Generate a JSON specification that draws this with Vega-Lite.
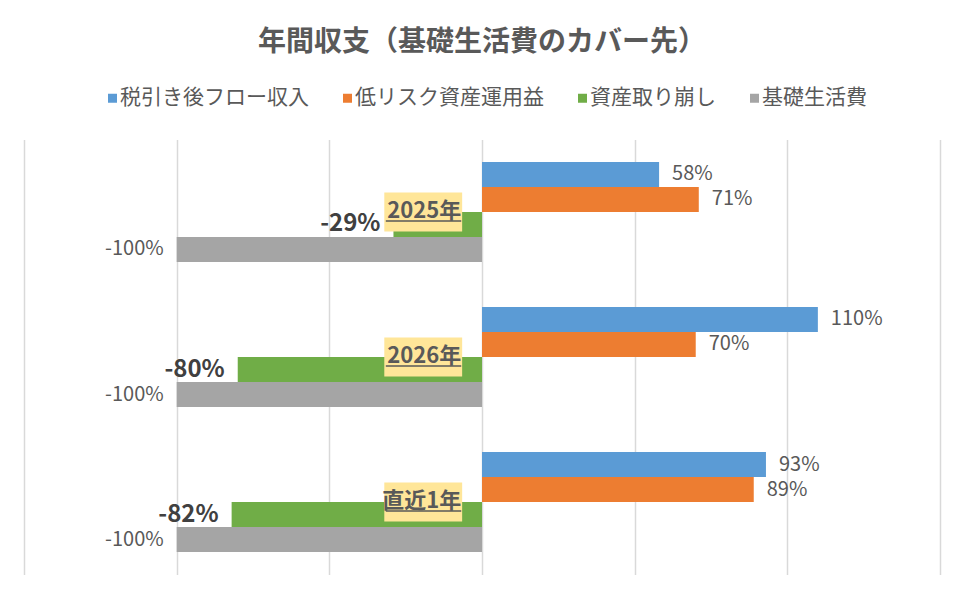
{
  "$schema": "https://vega.github.io/schema/vega-lite/v6.json",
  "width": 916,
  "height": 435,
  "autosize": {"type": "none"},
  "padding": {"left": 24, "top": 139.5, "right": 24, "bottom": 24.5},
  "background": "#ffffff",
  "title": {
    "text": "年間収支（基礎生活費のカバー先）",
    "font": "Noto Sans CJK JP",
    "fontSize": 28,
    "fontWeight": "bold",
    "color": "#595959",
    "anchor": "middle",
    "frame": "group",
    "offset": 31
  },
  "config": {
    "font": "Noto Sans CJK JP",
    "view": {"stroke": null},
    "locale": {
      "number": {"decimal": ".", "thousands": ",", "grouping": [3], "currency": ["$", ""], "minus": "-"}
    }
  },
  "data": {
    "values": [
      {"period": "2025年", "series": "税引き後フロー収入", "value": 0.58},
      {"period": "2025年", "series": "低リスク資産運用益", "value": 0.71},
      {"period": "2025年", "series": "資産取り崩し", "value": -0.29},
      {"period": "2025年", "series": "基礎生活費", "value": -1.0},
      {"period": "2026年", "series": "税引き後フロー収入", "value": 1.1},
      {"period": "2026年", "series": "低リスク資産運用益", "value": 0.7},
      {"period": "2026年", "series": "資産取り崩し", "value": -0.8},
      {"period": "2026年", "series": "基礎生活費", "value": -1.0},
      {"period": "直近1年", "series": "税引き後フロー収入", "value": 0.93},
      {"period": "直近1年", "series": "低リスク資産運用益", "value": 0.89},
      {"period": "直近1年", "series": "資産取り崩し", "value": -0.82},
      {"period": "直近1年", "series": "基礎生活費", "value": -1.0}
    ]
  },
  "encoding": {
    "y": {
      "field": "period",
      "type": "nominal",
      "sort": ["2025年", "2026年", "直近1年"],
      "axis": null,
      "scale": {"paddingInner": 0.3103, "paddingOuter": 0.155}
    }
  },
  "layer": [
    {
      "mark": {"type": "bar"},
      "encoding": {
        "x": {
          "field": "value",
          "type": "quantitative",
          "scale": {"domain": [-1.5, 1.5], "nice": false},
          "axis": {
            "values": [-1.5, -1, -0.5, 0, 0.5, 1, 1.5],
            "labels": false,
            "ticks": false,
            "domain": false,
            "title": null,
            "gridColor": "#D9D9D9",
            "gridWidth": 1.5
          }
        },
        "yOffset": {
          "field": "series",
          "sort": ["税引き後フロー収入", "低リスク資産運用益", "資産取り崩し", "基礎生活費"],
          "scale": {"paddingInner": 0, "paddingOuter": 0}
        },
        "color": {
          "field": "series",
          "type": "nominal",
          "sort": ["税引き後フロー収入", "低リスク資産運用益", "資産取り崩し", "基礎生活費"],
          "scale": {
            "domain": ["税引き後フロー収入", "低リスク資産運用益", "資産取り崩し", "基礎生活費"],
            "range": ["#5B9BD5", "#ED7D31", "#70AD47", "#A5A5A5"]
          },
          "legend": {
            "orient": "none",
            "legendX": 78,
            "legendY": -52,
            "direction": "horizontal",
            "columns": 4,
            "title": null,
            "symbolType": "square",
            "symbolSize": 81,
            "symbolStrokeWidth": 0,
            "symbolOffset": 0,
            "labelFontSize": 21,
            "labelColor": "#595959",
            "labelFont": "Noto Sans CJK JP",
            "labelLimit": 0,
            "labelOffset": -3,
            "columnPadding": 28,
            "padding": 0
          }
        }
      }
    },
    {
      "transform": [{"filter": "datum.value > 0"}],
      "mark": {"type": "text", "align": "left", "baseline": "middle", "dx": 13, "fontSize": 20, "color": "#595959"},
      "encoding": {
        "x": {"field": "value", "type": "quantitative"},
        "yOffset": {"field": "series", "sort": ["税引き後フロー収入", "低リスク資産運用益", "資産取り崩し", "基礎生活費"]},
        "text": {"field": "value", "type": "quantitative", "format": ".0%"}
      }
    },
    {
      "transform": [{"filter": "datum.series == '資産取り崩し'"}],
      "mark": {"type": "text", "align": "right", "baseline": "middle", "dx": -13, "fontSize": 24, "fontWeight": "bold", "color": "#404040"},
      "encoding": {
        "x": {"field": "value", "type": "quantitative"},
        "yOffset": {"field": "series", "sort": ["税引き後フロー収入", "低リスク資産運用益", "資産取り崩し", "基礎生活費"]},
        "text": {"field": "value", "type": "quantitative", "format": ".0%"}
      }
    },
    {
      "transform": [{"filter": "datum.series == '基礎生活費'"}],
      "mark": {"type": "text", "align": "right", "baseline": "middle", "dx": -13, "fontSize": 20, "color": "#595959"},
      "encoding": {
        "x": {"field": "value", "type": "quantitative"},
        "yOffset": {"field": "series", "sort": ["税引き後フロー収入", "低リスク資産運用益", "資産取り崩し", "基礎生活費"]},
        "text": {"field": "value", "type": "quantitative", "format": ".0%"}
      }
    },
    {
      "transform": [{"filter": "datum.series == '税引き後フロー収入'"}],
      "mark": {"type": "bar", "color": "#FFE699", "height": {"band": 0.39}},
      "encoding": {
        "x": {"datum": -0.32, "type": "quantitative"},
        "x2": {"datum": -0.065}
      }
    },
    {
      "transform": [{"filter": "datum.series == '税引き後フロー収入'"}],
      "mark": {"type": "rule", "yOffset": 9, "strokeWidth": 1.5, "color": "#595959"},
      "encoding": {
        "x": {"datum": -0.315, "type": "quantitative"},
        "x2": {"datum": -0.068}
      }
    },
    {
      "transform": [{"filter": "datum.series == '税引き後フロー収入'"}],
      "mark": {"type": "text", "align": "right", "baseline": "middle", "dx": -1, "dy": -1, "fontSize": 22, "fontWeight": "bold", "color": "#595959"},
      "encoding": {
        "x": {"datum": -0.065, "type": "quantitative"},
        "text": {"field": "period", "type": "nominal"}
      }
    }
  ]
}
